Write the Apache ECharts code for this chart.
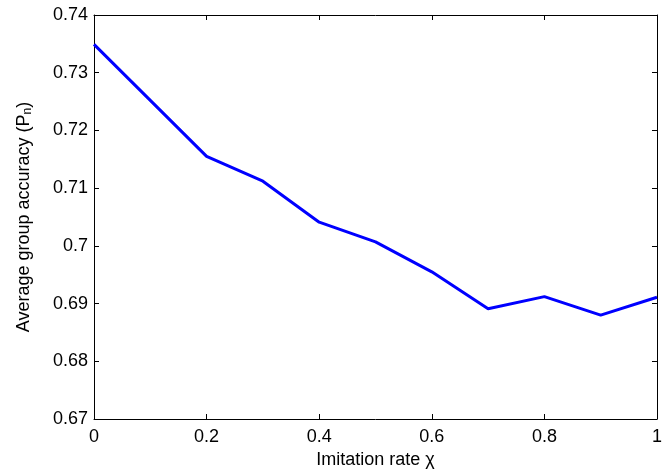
<!DOCTYPE html>
<html>
<head>
<meta charset="utf-8">
<script src="https://cdn.jsdelivr.net/npm/echarts@6/dist/echarts.min.js"></script>
<style>html,body{margin:0;padding:0;background:#fff;}#c{width:665px;height:474px;}</style>
</head>
<body>
<div id="c"></div>
<script>
var xValues = [0, 0.1, 0.2, 0.3, 0.4, 0.5, 0.6, 0.7, 0.8, 0.9, 1.0];
var accuracy = [0.7349, 0.7252, 0.7155, 0.7112, 0.7041, 0.7007, 0.6955, 0.6891, 0.6912, 0.6880, 0.6911];
var xLabel = 'Imitation rate χ';
var yLabel = 'Average group accuracy (P{sub|n})';

var font = 'Liberation Sans, Arial, Helvetica, sans-serif';
var fmt = function (v) { return String(parseFloat(Number(v).toFixed(2))); };
var chart = echarts.init(document.getElementById('c'));
var axisCommon = {
  axisLine: { show: true, onZero: false, lineStyle: { color: '#000', width: 1 } },
  axisTick: { show: true, inside: true, length: 5, lineStyle: { color: '#000' } },
  splitLine: { show: false }
};
chart.setOption({
  animation: false,
  grid: { left: 94, right: 4, top: 15, bottom: 54, containLabel: false },
  xAxis: [
    Object.assign({
      type: 'value', min: 0, max: 1, interval: 0.2, position: 'bottom',
      axisLabel: { formatter: fmt, color: '#000', fontSize: 18, fontFamily: font, margin: 9 },
      name: xLabel, nameLocation: 'middle', nameGap: 32,
      nameTextStyle: { color: '#000', fontSize: 18, fontFamily: font }
    }, axisCommon),
    Object.assign({
      type: 'value', min: 0, max: 1, interval: 0.2, position: 'top',
      axisLabel: { show: false }
    }, axisCommon)
  ],
  yAxis: [
    Object.assign({
      type: 'value', min: 0.67, max: 0.74, interval: 0.01, position: 'left',
      axisLabel: { formatter: fmt, color: '#000', fontSize: 18, fontFamily: font, margin: 6 },
      name: yLabel, nameLocation: 'middle', nameGap: 60, nameRotate: 90,
      nameTextStyle: {
        color: '#000', fontSize: 18, fontFamily: font,
        rich: { sub: { fontSize: 12, fontFamily: font, color: '#000', verticalAlign: 'bottom', padding: [8, 0, 0, 0] } }
      }
    }, axisCommon),
    Object.assign({
      type: 'value', min: 0.67, max: 0.74, interval: 0.01, position: 'right',
      axisLabel: { show: false }
    }, axisCommon)
  ],
  series: [{
    type: 'line',
    data: xValues.map(function (x, i) { return [x, accuracy[i]]; }),
    showSymbol: false,
    lineStyle: { color: '#0000ff', width: 3 },
    itemStyle: { color: '#0000ff' }
  }]
});
</script>
</body>
</html>
